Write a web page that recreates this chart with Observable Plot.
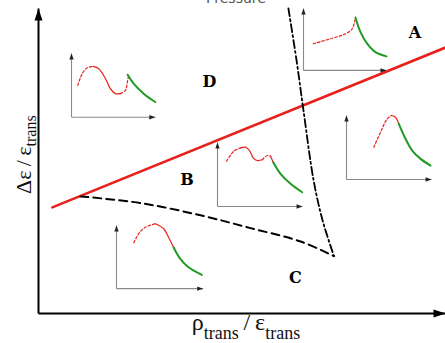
<!DOCTYPE html>
<html><head><meta charset="utf-8">
<script src="https://cdn.jsdelivr.net/npm/d3@7"></script>
<script src="https://cdn.jsdelivr.net/npm/@observablehq/plot@0.6"></script>
<style>
html,body{margin:0;padding:0;background:#fff;}
#fig{position:relative;width:445px;height:343px;overflow:hidden;background:#fff;}
#fig svg{overflow:visible;}
.inset{position:absolute;}
</style></head><body><div id="fig"></div>
<script>
// ---- main diagram, arbitrary units (0–10 on both axes) ----
const redBoundary = [{x:0.34,y:3.48},{x:10,y:8.72}];
const dashedBoundary = [{x:1.03,y:3.84},{x:2.51,y:3.62},{x:3.98,y:3.22},{x:5.21,y:2.80},{x:6.44,y:2.36},{x:7.26,y:1.88}];
const dashDotBoundary = [{x:6.14,y:10},{x:6.34,y:8.30},{x:6.51,y:6.66},{x:6.76,y:4.36},{x:6.98,y:3.05},{x:7.26,y:1.88}];
const regionLabels = [{label:"A",x:9.25,y:9.2},{label:"D",x:4.2,y:7.59},{label:"B",x:3.65,y:4.39},{label:"C",x:6.31,y:1.16}];
const axisLines = [{x1:0,y1:0,x2:10,y2:0},{x1:0,y1:0,x2:0,y2:10}];
const axisHeads = [{x:10,y:0,rot:90},{x:0,y:10,rot:0}];

// ---- insets: frame corners in main units, curves in local units (0–1) ----
const insetNames = ["D","A","B","R","C"];
const insetFrames = {
  D:{u0:0.81,v0:6.43,u1:2.87,v1:8.52},
  A:{u0:6.51,v0:7.97,u1:8.55,v1:10.0},
  B:{u0:4.40,v0:3.51,u1:6.49,v1:5.61},
  R:{u0:7.57,v0:4.39,u1:9.66,v1:6.49},
  C:{u0:1.92,v0:0.82,u1:4.05,v1:2.89}
};
const insetRedDashed = {
  D:[[[0.075,0.5],[0.127,0.68],[0.187,0.776],[0.258,0.797]],[[0.583,0.37],[0.643,0.422],[0.67,0.578],[0.682,0.656]]],
  A:[[[0.117,0.431],[0.325,0.511],[0.506,0.592],[0.587,0.673],[0.627,0.86]]],
  B:[[[0.106,0.708],[0.192,0.864],[0.271,0.917]],[[0.526,0.73],[0.585,0.797],[0.624,0.786]]],
  R:[[[0.321,0.505],[0.4,0.739],[0.479,0.948],[0.529,1.0]]],
  C:[[[0.2,0.727],[0.256,0.87],[0.333,0.973],[0.448,1.027]]]
};
const insetRedSolid = {
  D:[[[0.258,0.797],[0.325,0.761],[0.405,0.605],[0.464,0.448],[0.524,0.37],[0.583,0.37]]],
  A:[],
  B:[[[0.271,0.917],[0.329,0.927],[0.376,0.875],[0.42,0.761],[0.467,0.719],[0.526,0.73]],[[0.624,0.786],[0.655,0.692]]],
  R:[[[0.529,1.0],[0.576,0.973],[0.615,0.87]]],
  C:[[[0.448,1.027],[0.544,0.948],[0.6,0.814],[0.658,0.656]]]
};
const insetGreen = {
  D:[[0.67,0.667],[0.742,0.527],[0.861,0.37],[1.0,0.239]],
  A:[[0.627,0.85],[0.687,0.618],[0.767,0.431],[0.867,0.295],[1.0,0.226]],
  B:[[0.655,0.692],[0.741,0.511],[0.859,0.355],[0.996,0.223]],
  R:[[0.615,0.87],[0.694,0.636],[0.773,0.453],[0.871,0.323],[0.988,0.219]],
  C:[[0.658,0.656],[0.736,0.471],[0.831,0.338],[0.985,0.217]]
};

const RED = "#e8201c", GREEN = "#1f9a24";
const fig = document.getElementById("fig");

const main = Plot.plot({
  width:445, height:343, marginLeft:38, marginRight:0, marginTop:8, marginBottom:30,
  x:{domain:[0,10], axis:null}, y:{domain:[0,10], axis:null},
  style:{background:"transparent", overflow:"visible"},
  marks:[
    Plot.link(axisLines, {x1:"x1",y1:"y1",x2:"x2",y2:"y2", stroke:"black", strokeWidth:2}),
    Plot.vector(axisHeads, {x:"x", y:"y", rotate:"rot", length:12, r:4, shape:"spike", anchor:"end", fill:"black", stroke:"none"}),
    Plot.line(redBoundary, {x:"x", y:"y", stroke:RED, strokeWidth:2.6}),
    Plot.line(dashedBoundary, {x:"x", y:"y", curve:"catmull-rom", stroke:"black", strokeWidth:2, strokeDasharray:"8,5"}),
    Plot.line(dashDotBoundary, {x:"x", y:"y", curve:"catmull-rom", stroke:"black", strokeWidth:1.8, strokeDasharray:"8,3,2,3"}),
    Plot.text(regionLabels, {x:"x", y:"y", text:"label", fontFamily:"'DejaVu Serif', serif", fontWeight:"bold", fontSize:16, fill:"black"})
  ]
});
fig.appendChild(main);

const sx = main.scale("x"), sy = main.scale("y");
const svg = d3.select(main);
// top cut-off title
svg.append("text").attr("x",236).attr("y",3).attr("text-anchor","middle")
  .attr("font-family","'DejaVu Sans', sans-serif").attr("font-size",14).attr("fill","#555").text("Pressure");
// x label
const xl = svg.append("text").attr("x",246).attr("y",330).attr("text-anchor","middle")
  .attr("font-family","'Liberation Serif', serif").attr("font-size",24).attr("fill","#111");
xl.append("tspan").text("ρ");
xl.append("tspan").attr("font-size",18).attr("dy",9).text("trans");
xl.append("tspan").attr("dy",-9).text("\u2009/\u2009ε");
xl.append("tspan").attr("font-size",18).attr("dy",9).text("trans");
// y label
const yl = svg.append("text").attr("transform","translate(31,194) rotate(-90)").attr("text-anchor","start")
  .attr("font-family","'Liberation Serif', serif").attr("font-size",22).attr("fill","#111");
yl.append("tspan").text("Δε\u2009/\u2009ε");
yl.append("tspan").attr("font-size",16).attr("dy",5).text("trans");

// insets
const m = 5;
for (const k of insetNames) {
  const f = insetFrames[k];
  const px0 = sx.apply(f.u0), px1 = sx.apply(f.u1);
  const py0 = sy.apply(f.v0), py1 = sy.apply(f.v1);
  const W = px1 - px0, H = py0 - py1;
  const toObj = pts => pts.map(([x,y]) => ({x,y}));
  const marks = [
    Plot.link([{x1:0,y1:0,x2:1,y2:0},{x1:0,y1:0,x2:0,y2:1}], {x1:"x1",y1:"y1",x2:"x2",y2:"y2", stroke:"#8a8a8a", strokeWidth:1.1}),
    Plot.vector([{x:1,y:0,r:90},{x:0,y:1,r:0}], {x:"x", y:"y", rotate:"r", length:6, r:2.2, shape:"spike", anchor:"end", fill:"#222", stroke:"none"})
  ];
  for (const seg of insetRedDashed[k]) marks.push(Plot.line(toObj(seg), {x:"x", y:"y", curve:"catmull-rom", stroke:RED, strokeWidth:1.2, strokeDasharray:"2.5,2"}));
  for (const seg of insetRedSolid[k]) marks.push(Plot.line(toObj(seg), {x:"x", y:"y", curve:"catmull-rom", stroke:RED, strokeWidth:1.2}));
  marks.push(Plot.line(toObj(insetGreen[k]), {x:"x", y:"y", curve:"catmull-rom", stroke:GREEN, strokeWidth:2}));
  const p = Plot.plot({
    width: W + 2*m, height: H + 2*m, marginLeft:m, marginRight:m, marginTop:m, marginBottom:m,
    x:{domain:[0,1], axis:null}, y:{domain:[0,1], axis:null},
    style:{background:"transparent", overflow:"visible"},
    marks
  });
  p.classList.add("inset");
  p.style.left = (px0 - m) + "px";
  p.style.top = (py1 - m) + "px";
  fig.appendChild(p);
}
</script></body></html>
